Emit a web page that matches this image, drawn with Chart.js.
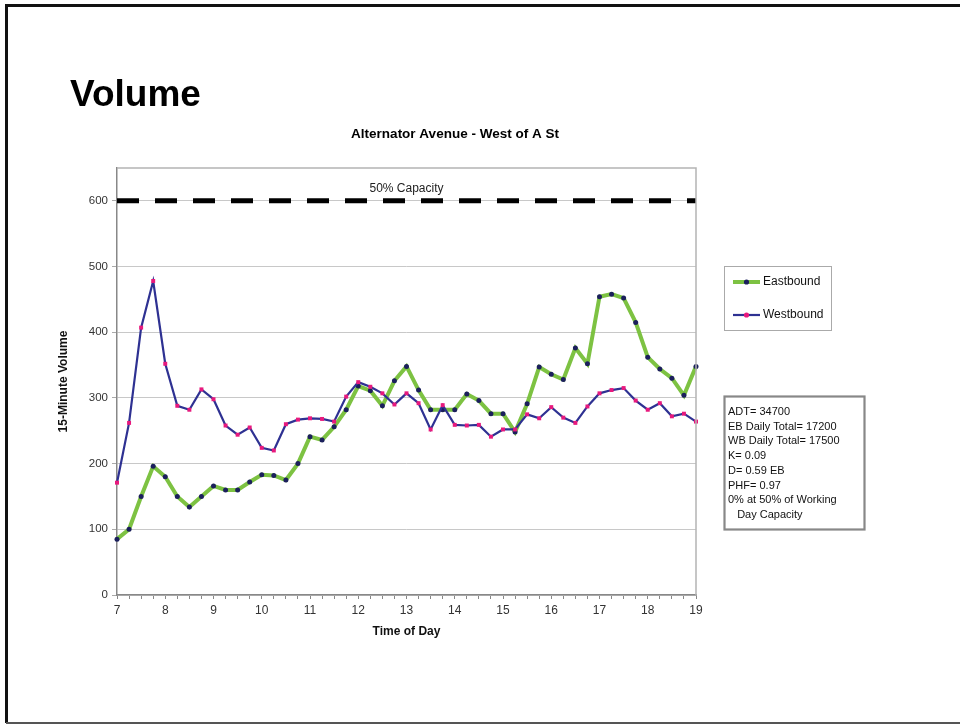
<!DOCTYPE html>
<html>
<head>
<meta charset="utf-8">
<title>Volume</title>
<script src="https://cdn.jsdelivr.net/npm/chart.js@4"></script>
<style>
  body { margin: 0; background: #fff; }
  canvas { display: block; }
</style>
</head>
<body>
<canvas id="chart" width="960" height="725"></canvas>
<script>
// 15-minute counts, 7:00 to 19:00
const times = [
  "7:00", "7:15", "7:30", "7:45", "8:00", "8:15", "8:30", "8:45",
  "9:00", "9:15", "9:30", "9:45", "10:00", "10:15", "10:30", "10:45",
  "11:00", "11:15", "11:30", "11:45", "12:00", "12:15", "12:30", "12:45",
  "13:00", "13:15", "13:30", "13:45", "14:00", "14:15", "14:30", "14:45",
  "15:00", "15:15", "15:30", "15:45", "16:00", "16:15", "16:30", "16:45",
  "17:00", "17:15", "17:30", "17:45", "18:00", "18:15", "18:30", "18:45",
  "19:00"
];

const eastbound = [
  85, 100, 150, 196, 180, 150, 134, 150, 166, 160, 160, 172, 183, 182, 175, 200,
  241, 236, 256, 282, 318, 311, 288, 326, 348, 312, 282, 282, 282, 306, 296,
  276, 276, 248, 291, 347, 336, 328, 376, 352, 454, 458, 452, 415, 362, 344, 330, 304, 348
];

const westbound = [
  171, 262, 407, 478, 352, 288, 282, 313, 298, 258, 244, 255, 224, 220, 260, 267,
  269, 268, 264, 302, 324, 317, 307, 290, 307, 292, 252, 289, 259, 258, 259,
  241, 252, 252, 275, 269, 286, 270, 262, 287, 307, 312, 315, 296, 282, 292, 272, 276, 264
];

const capacity = 600;

const statsLines = [
  "ADT= 34700",
  "EB Daily Total= 17200",
  "WB Daily Total= 17500",
  "K= 0.09",
  "D= 0.59 EB",
  "PHF= 0.97",
  "0% at 50% of Working",
  "   Day Capacity"
];

const FONT = "'Liberation Sans', Arial, sans-serif";
const GREEN = "#7dc242";
const NAVY = "#2e3192";
const PINK = "#e8197d";
const DOT = "#1b1f5c";

// slide frame, headings, legend and the stats box
const decorations = {
  id: "decorations",
  beforeDraw(chart) {
    const ctx = chart.ctx;
    ctx.save();
    ctx.fillStyle = "#fff";
    ctx.fillRect(0, 0, chart.width, chart.height);
    ctx.strokeStyle = "#111";
    ctx.lineWidth = 3;
    ctx.beginPath();
    ctx.moveTo(6.5, 723);
    ctx.lineTo(6.5, 5.5);
    ctx.lineTo(965, 5.5);
    ctx.stroke();
    ctx.strokeStyle = "#555";
    ctx.lineWidth = 2;
    ctx.beginPath();
    ctx.moveTo(6, 723);
    ctx.lineTo(965, 723);
    ctx.stroke();
    ctx.restore();
  },
  afterDraw(chart) {
    const ctx = chart.ctx;
    const area = chart.chartArea;
    ctx.save();

    // plot frame top and right
    ctx.strokeStyle = "#b4b4b4";
    ctx.lineWidth = 1.5;
    ctx.beginPath();
    ctx.moveTo(area.left, area.top);
    ctx.lineTo(area.right, area.top);
    ctx.lineTo(area.right, area.bottom);
    ctx.stroke();

    ctx.fillStyle = "#000";
    ctx.textBaseline = "alphabetic";
    ctx.textAlign = "left";
    ctx.font = "bold 37px " + FONT;
    ctx.fillText("Volume", 70, 106);

    ctx.textAlign = "center";
    ctx.font = "bold 13.5px " + FONT;
    ctx.fillText("Alternator Avenue - West of A St", 455, 138);

    ctx.font = "12px " + FONT;
    ctx.fillStyle = "#222";
    const capY = chart.scales.y.getPixelForValue(capacity);
    ctx.fillText("50% Capacity", (area.left + area.right) / 2, capY - 9);

    // axis titles
    ctx.fillStyle = "#111";
    ctx.font = "bold 12px " + FONT;
    ctx.fillText("Time of Day", (area.left + area.right) / 2, 635);
    ctx.save();
    ctx.translate(67, (area.top + area.bottom) / 2);
    ctx.rotate(-Math.PI / 2);
    ctx.fillText("15-Minute Volume", 0, 0);
    ctx.restore();

    // legend box
    ctx.strokeStyle = "#aaa";
    ctx.lineWidth = 1;
    ctx.strokeRect(724.5, 266.5, 107, 64);
    const items = [
      { label: "Eastbound", line: GREEN, width: 4, dot: DOT, y: 282 },
      { label: "Westbound", line: NAVY, width: 2.2, dot: PINK, y: 315 }
    ];
    items.forEach((it) => {
      ctx.strokeStyle = it.line;
      ctx.lineWidth = it.width;
      ctx.beginPath();
      ctx.moveTo(733, it.y);
      ctx.lineTo(760, it.y);
      ctx.stroke();
      ctx.fillStyle = it.dot;
      ctx.beginPath();
      ctx.arc(746.5, it.y, 2.6, 0, Math.PI * 2);
      ctx.fill();
      ctx.fillStyle = "#111";
      ctx.textAlign = "left";
      ctx.textBaseline = "middle";
      ctx.font = "12px " + FONT;
      ctx.fillText(it.label, 763, it.y);
    });

    // stats box
    ctx.strokeStyle = "#888";
    ctx.strokeRect(724.5, 396.5, 140, 133);
    ctx.fillStyle = "#111";
    ctx.font = "11px " + FONT;
    ctx.textBaseline = "middle";
    statsLines.forEach((line, i) => {
      ctx.fillText(line, 728, 412 + i * 14.7);
    });

    ctx.restore();
  }
};

new Chart(document.getElementById("chart"), {
  type: "line",
  data: {
    labels: times,
    datasets: [
      {
        label: "50% Capacity",
        data: [
          { x: times[0], y: capacity },
          { x: times[times.length - 1], y: capacity }
        ],
        borderColor: "#000",
        borderWidth: 5,
        borderDash: [22, 16],
        pointRadius: 0,
        fill: false,
        order: 3
      },
      {
        label: "Eastbound",
        data: eastbound,
        borderColor: GREEN,
        borderWidth: 4,
        pointBackgroundColor: DOT,
        pointBorderColor: DOT,
        pointRadius: 2.5,
        pointBorderWidth: 0,
        tension: 0,
        order: 2
      },
      {
        label: "Westbound",
        data: westbound,
        borderColor: NAVY,
        borderWidth: 2.2,
        pointBackgroundColor: PINK,
        pointBorderColor: PINK,
        pointStyle: "rect",
        pointRadius: 2.8,
        pointBorderWidth: 0,
        tension: 0,
        order: 1
      }
    ]
  },
  options: {
    responsive: false,
    animation: false,
    layout: {
      padding: { left: 0, top: 168, right: 264, bottom: 0 }
    },
    plugins: {
      legend: { display: false },
      title: { display: false },
      tooltip: { enabled: false }
    },
    scales: {
      x: {
        type: "category",
        offset: false,
        afterFit(scale) {
          scale.height = 130;
        },
        grid: {
          drawOnChartArea: false,
          drawTicks: true,
          tickLength: 4,
          color: "#888"
        },
        border: { color: "#888", width: 1.5 },
        ticks: {
          autoSkip: false,
          maxRotation: 0,
          padding: 4,
          color: "#333",
          font: { family: FONT, size: 12 },
          callback(value) {
            const label = this.getLabelForValue(value);
            return label.endsWith(":00") ? label.split(":")[0] : "";
          }
        }
      },
      y: {
        min: 0,
        max: 650,
        afterFit(scale) {
          scale.width = 117;
        },
        afterBuildTicks(scale) {
          scale.ticks = scale.ticks.filter((t) => t.value <= 600);
        },
        grid: {
          color: "#c8c8c8",
          tickLength: 5,
          tickColor: "#aaa"
        },
        border: { color: "#888", width: 1.5 },
        ticks: {
          stepSize: 100,
          padding: 4,
          color: "#333",
          font: { family: FONT, size: 11.5 }
        }
      }
    }
  },
  plugins: [decorations]
});
</script>
</body>
</html>
